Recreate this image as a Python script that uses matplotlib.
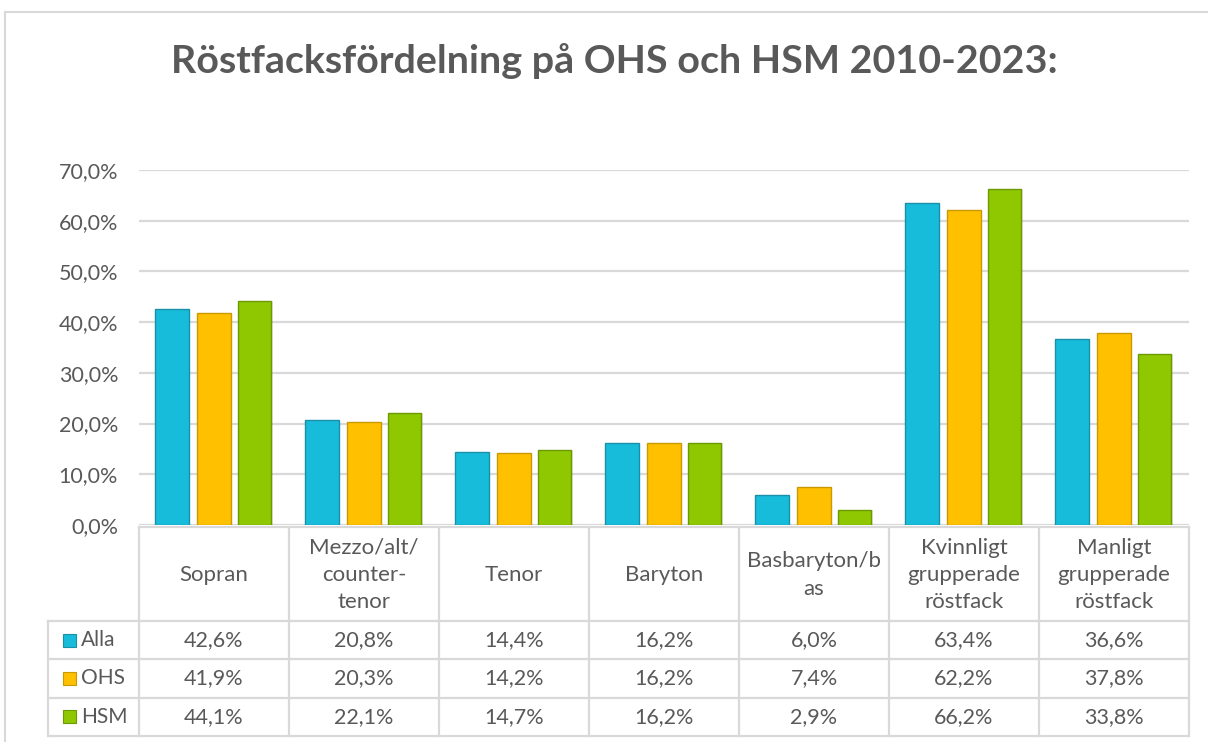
import matplotlib
matplotlib.use("Agg")
import matplotlib.pyplot as plt
from matplotlib.patches import Rectangle
from matplotlib.lines import Line2D

categories = ["Sopran", "Mezzo/alt/\ncounter-\ntenor", "Tenor", "Baryton",
              "Basbaryton/b\nas", "Kvinnligt\ngrupperade\nröstfack", "Manligt\ngrupperade\nröstfack"]
series_names = ["Alla", "OHS", "HSM"]
alla = [42.6, 20.8, 14.4, 16.2, 6.0, 63.4, 36.6]
ohs = [41.9, 20.3, 14.2, 16.2, 7.4, 62.2, 37.8]
hsm = [44.1, 22.1, 14.7, 16.2, 2.9, 66.2, 33.8]
yticks = [0, 10, 20, 30, 40, 50, 60, 70]
title = "Röstfacksfördelning på OHS och HSM 2010-2023:"

colors = ["#17BCDB", "#FFC000", "#8FC800"]
edges = ["#1A8FA8", "#C99A00", "#6C9A00"]
text_col = "#595959"
grid_col = "#D9D9D9"
FONT = "Lato"

W, H = 1208, 742
fig = plt.figure(figsize=(W / 100, H / 100), dpi=100)
fig.patch.set_facecolor("white")

# pixel-coordinate overlay
ov = fig.add_axes([0, 0, 1, 1])
ov.set_xlim(0, W)
ov.set_ylim(H, 0)
ov.axis("off")

# plot area geometry (pixels)
px_left, px_right = 139, 1189
px_zero, px_top = 525, 170
ax = fig.add_axes([px_left / W, 1 - px_zero / H, (px_right - px_left) / W, (px_zero - px_top) / H])
ax.set_xlim(0, len(categories))
ax.set_ylim(0, 70)
ax.set_facecolor("none")
for s in ax.spines.values():
    s.set_visible(False)
ax.set_xticks([])
ax.set_yticks(yticks)
ax.set_yticklabels([f"{v:.1f}%".replace(".", ",") for v in yticks],
                   fontsize=15.5, color=text_col, family=FONT)
ax.tick_params(axis="y", length=0, pad=15)
ax.yaxis.grid(True, color=grid_col, linewidth=1.6)
ax.set_axisbelow(True)

series = [alla, ohs, hsm]
offsets = [-0.28, 0.0, 0.272]
bw = 0.222
for k, vals in enumerate(series):
    xs = [i + 0.5 + offsets[k] for i in range(len(categories))]
    # soft shadow
    ax.bar([x + 0.012 for x in xs], vals, width=bw, color="#000000", alpha=0.10,
           linewidth=0, zorder=2)
    ax.bar(xs, vals, width=bw, color=colors[k], edgecolor=edges[k], linewidth=1.0, zorder=3)

# chart border
ov.add_line(Line2D([5, 5], [12, H + 5], color="#D9D9D9", linewidth=1.5))
ov.add_line(Line2D([5, W + 5], [12, 12], color="#D9D9D9", linewidth=1.5))

# title
ov.text(614, 73, title, ha="center", va="baseline", fontsize=28.4, fontweight="bold",
        color=text_col, family=FONT)

# data table
ncat = len(categories)
colw = (px_right - px_left) / ncat
hdr_top, hdr_bot = 527, 621
row_h = 38.3
leg_left = 48
tbl_bot = hdr_bot + 3 * row_h
lw = 1.6
ov.add_line(Line2D([px_left, px_right], [hdr_top, hdr_top], color=grid_col, linewidth=lw))
for r in range(4):
    y = hdr_bot + r * row_h
    ov.add_line(Line2D([leg_left, px_right], [y, y], color=grid_col, linewidth=lw))
for i in range(ncat + 1):
    x = px_left + i * colw
    ov.add_line(Line2D([x, x], [hdr_top, tbl_bot], color=grid_col, linewidth=lw))
ov.add_line(Line2D([leg_left, leg_left], [hdr_bot, tbl_bot], color=grid_col, linewidth=lw))

for i, cat in enumerate(categories):
    cx = px_left + (i + 0.5) * colw
    ov.text(cx, 575, cat, ha="center", va="center",
            fontsize=16, color=text_col, family=FONT, linespacing=1.45)
    for r, vals in enumerate(series):
        cy = hdr_bot + (r + 0.5) * row_h
        ov.text(cx, cy, f"{vals[i]:.1f}%".replace(".", ","), ha="center", va="center",
                fontsize=15.5, color=text_col, family=FONT)

for r, name in enumerate(series_names):
    cy = hdr_bot + (r + 0.5) * row_h
    ov.add_patch(Rectangle((63, cy - 6.5), 13, 13, facecolor=colors[r], edgecolor=edges[r],
                           linewidth=0.8))
    ov.text(81, cy, name, ha="left", va="center", fontsize=15, color=text_col, family=FONT)

fig.savefig("out.png", dpi=100, facecolor="white")
